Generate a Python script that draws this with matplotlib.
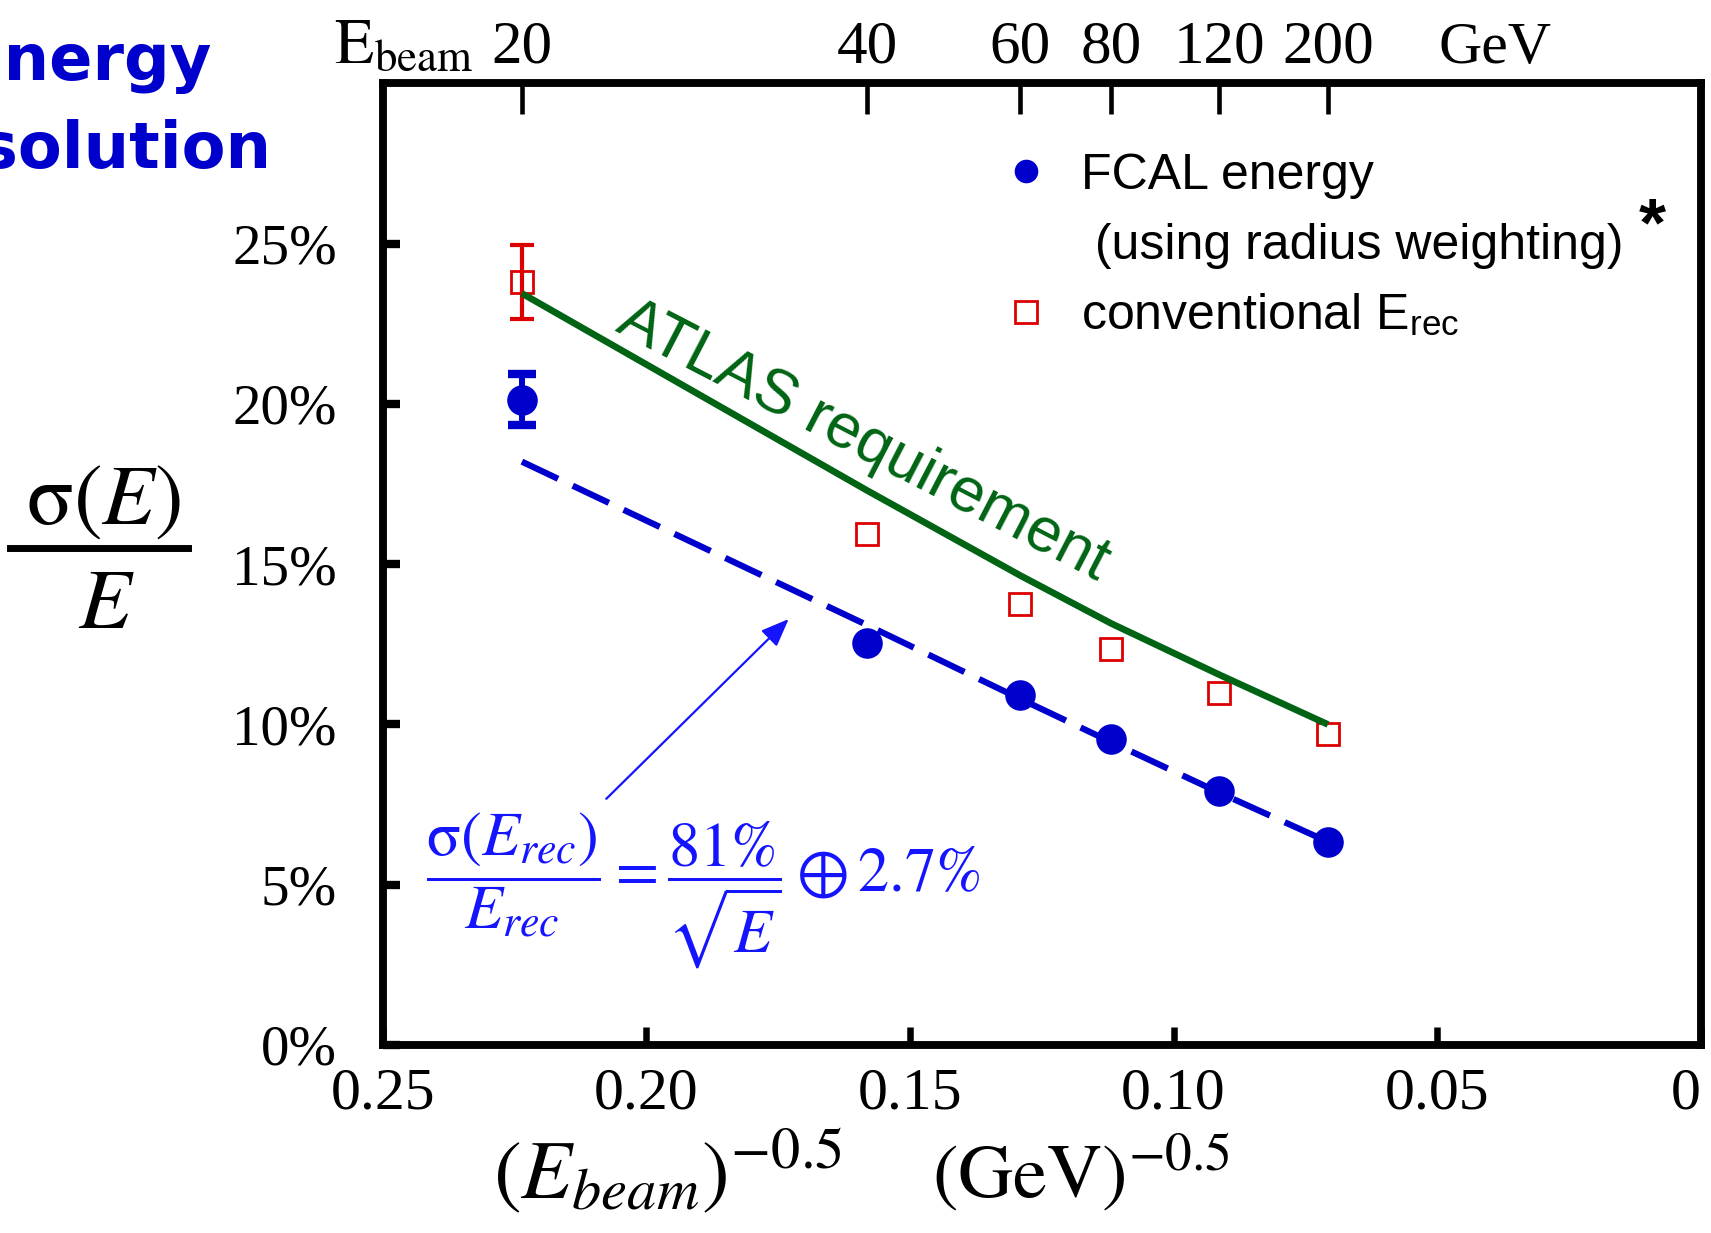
import numpy as np
import matplotlib.pyplot as plt
from matplotlib.lines import Line2D

plt.rcParams['font.family'] = 'Liberation Serif'
plt.rcParams['mathtext.fontset'] = 'stix'

# beam energies (GeV), x axis is E^-0.5
energies = np.array([20, 40, 60, 80, 120, 200])
top_labels = ['20', '40', '60', '80', '120', '200']

# sigma(E)/E in percent
fcal_res = [20.13, 12.54, 10.91, 9.55, 7.93, 6.34]
fcal_err20 = 0.79
conv_res = [23.80, 15.95, 13.77, 12.34, 10.97, 9.70]
conv_err20 = 1.15
atlas_req = [23.45, 17.3, 14.65, 13.15, 11.55, 10.0]
fit_res = [18.2, 13.1, 10.8, 9.45, 7.87, 6.34]

x_ticks = [0.25, 0.20, 0.15, 0.10, 0.05, 0]
x_ticklabels = ['0.25', '0.20', '0.15', '0.10', '0.05', '0']
y_ticks = [0, 5, 10, 15, 20, 25]
y_ticklabels = ['0%', '5%', '10%', '15%', '20%', '25%']

blue = '#0000CC'
red = '#DD0000'
green = '#006414'
fblue = '#1414FF'

x = 1 / np.sqrt(energies)

fig = plt.figure(figsize=(17.11, 12.33), dpi=100)
ax = fig.add_axes([0.2237, 0.1525, 0.994 - 0.2237, 0.9323 - 0.1525])

# data
ax.plot(x, conv_res, ls='none', marker='s', ms=16.5, mfc='none', mec=red, mew=2, zorder=3)
ax.errorbar(x[:1], conv_res[:1], yerr=conv_err20, fmt='none', ecolor=red,
            elinewidth=3, capsize=8.3, capthick=3, zorder=3)
ax.plot(x, atlas_req, color=green, lw=4.8, solid_capstyle='butt', zorder=4)
ax.plot(x, fit_res, color=blue, lw=4.5, ls=(0, (6.4, 2.6)), zorder=4)
ax.errorbar(x[:1], fcal_res[:1], yerr=fcal_err20, fmt='none', ecolor=blue,
            elinewidth=4.3, capsize=10, capthick=6, zorder=5)
ax.plot(x, fcal_res, ls='none', marker='o', ms=22, color=blue, mew=0, zorder=5)

ax.set_xlim(0.25, 0)
ax.set_ylim(0, 30)
ax.set_xticks(x_ticks)
ax.set_xticklabels(x_ticklabels)
ax.get_xticklabels()[-1].set_horizontalalignment('right')
ax.set_yticks(y_ticks)
ax.set_yticklabels(y_ticklabels)
ax.tick_params(axis='x', direction='in', length=13, width=4.7, pad=16, labelsize=43, top=False)
ax.tick_params(axis='y', direction='in', length=12, width=6, pad=33, labelsize=41, right=False)
for s in ax.spines.values():
    s.set_linewidth(5.4)

# top axis with beam energies
ax2 = ax.twiny()
ax2.set_xlim(ax.get_xlim())
ax2.set_xticks(x)
ax2.set_xticklabels(top_labels)
ax2.tick_params(axis='x', direction='in', length=22, width=3.3, pad=6, labelsize=44)
for s in ax2.spines.values():
    s.set_linewidth(5.4)
fig.text(0.195, 0.949, r'$\mathrm{E_{beam}}$', fontsize=46, ha='left', va='baseline')
fig.text(0.8737, 0.949, 'GeV', fontsize=43, ha='center', va='baseline')

# labels
fig.text(0.0606, 0.575, r'$\mathrm{\sigma}(E)$', fontsize=62, ha='center', va='baseline')
fig.text(0.062, 0.4906, r'$E$', fontsize=62, ha='center', va='baseline')
fig.add_artist(Line2D([0.0056, 0.110], [0.5556, 0.5556], transform=fig.transFigure,
                      color='k', lw=5))
fig.text(0.288, 0.0284, r'$\left(E_{beam}\right)^{-0.5}$', fontsize=60, ha='left', va='baseline')
fig.text(0.545, 0.0284, r'$(\mathrm{GeV})^{-0.5}$', fontsize=55, ha='left', va='baseline')

# cut-off title
fig.text(0.1235, 0.935, 'Energy', fontsize=46, weight='bold', color=blue,
         family='DejaVu Sans', ha='right', va='baseline')
fig.text(0.159, 0.8635, 'resolution', fontsize=46, weight='bold', color=blue,
         family='DejaVu Sans', ha='right', va='baseline')

# ATLAS requirement label
ax.text(0.2062, 22.3, 'ATLAS requirement', color=green, family='Liberation Sans',
        fontsize=45, rotation=-27.4, rotation_mode='anchor', ha='left', va='baseline')

# fit formula and arrow
ax.annotate('', xy=(0.1730, 13.29), xytext=(0.2076, 7.68),
            arrowprops=dict(arrowstyle='-|>,head_length=0.45,head_width=0.18',
                            color=fblue, lw=1.6, mutation_scale=38,
                            shrinkA=0, shrinkB=0))
fig.text(0.249, 0.278,
         r'$\dfrac{\mathrm{\sigma}(E_{rec})}{E_{rec}} = \dfrac{81\%}{\sqrt{E}} \oplus 2.7\%$',
         fontsize=45, color=fblue, ha='left', va='baseline')

# legend
handles = [Line2D([], [], ls='none', marker='o', ms=17, color=blue, mew=0),
           Line2D([], [], ls='none'),
           Line2D([], [], ls='none', marker='s', ms=16.5, mfc='none', mec=red, mew=2)]
labels = ['FCAL energy', ' (using radius weighting)', r'conventional E$_{\mathregular{rec}}$']
ax.legend(handles, labels, loc='upper left', bbox_to_anchor=(0.4731, 0.928),
          frameon=False, prop={'family': 'Liberation Sans', 'size': 36},
          handlelength=0.8, handletextpad=0.7, labelspacing=0.48,
          borderaxespad=0, borderpad=0)
ax.text(0.963, 0.85, '*', transform=ax.transAxes, fontsize=50, weight='bold',
        family='Liberation Sans', ha='center', va='center')

fig.savefig('out.png', dpi=100)
